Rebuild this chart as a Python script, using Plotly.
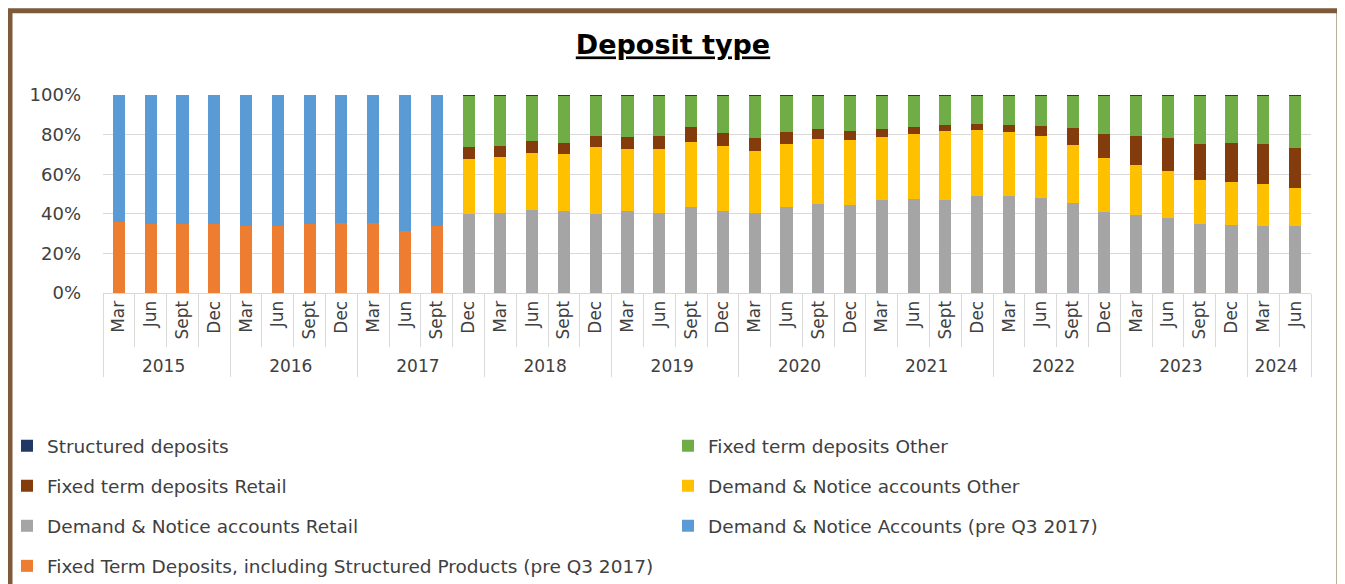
import plotly.graph_objects as go

# periods (two-level category axis)
year = ["2015", "2015", "2015", "2015", "2016", "2016", "2016", "2016",
        "2017", "2017", "2017", "2017", "2018", "2018", "2018", "2018",
        "2019", "2019", "2019", "2019", "2020", "2020", "2020", "2020",
        "2021", "2021", "2021", "2021", "2022", "2022", "2022", "2022",
        "2023", "2023", "2023", "2023", "2024", "2024"]
month = ["Mar", "Jun", "Sept", "Dec", "Mar", "Jun", "Sept", "Dec",
         "Mar", "Jun", "Sept", "Dec", "Mar", "Jun", "Sept", "Dec",
         "Mar", "Jun", "Sept", "Dec", "Mar", "Jun", "Sept", "Dec",
         "Mar", "Jun", "Sept", "Dec", "Mar", "Jun", "Sept", "Dec",
         "Mar", "Jun", "Sept", "Dec", "Mar", "Jun"]

N = None
# old breakdown (up to Sept 2017), % of total
fixed_pre = [36, 35, 35, 35, 34, 34, 35, 35.5, 35.5, 31.5, 34,
             N, N, N, N, N, N, N, N, N, N, N, N, N, N, N, N, N, N, N, N, N, N, N, N, N, N, N]
demand_pre = [64, 65, 65, 65, 66, 66, 65, 64.5, 64.5, 68.5, 66,
              N, N, N, N, N, N, N, N, N, N, N, N, N, N, N, N, N, N, N, N, N, N, N, N, N, N, N]

# new breakdown (from Dec 2017), % of total
pad = [N] * 11
demand_retail = pad + [40.1, 40.6, 42.1, 41.6, 39.7, 41.4, 40.6, 43.3, 41.4, 40.6, 43.3, 44.8, 44.5, 46.8,
                       47.3, 47.2, 49.2, 48.9, 47.8, 45.5, 40.9, 39.6, 38.1, 35.0, 34.2, 33.7, 33.7]
demand_other = pad + [27.5, 28.2, 28.7, 28.4, 33.8, 31.1, 32.2, 33.2, 32.6, 31.2, 32.2, 32.8, 32.7, 31.9,
                      32.8, 34.6, 33.1, 32.4, 31.4, 29.0, 27.4, 25.0, 23.4, 22.3, 22.1, 21.4, 19.4]
fixed_retail = pad + [6.1, 5.4, 5.9, 6.0, 5.7, 6.2, 6.4, 7.5, 6.6, 6.4, 5.8, 5.2, 4.7, 4.1,
                      3.7, 3.0, 3.0, 3.5, 5.1, 8.8, 11.8, 14.5, 16.6, 18.0, 19.5, 20.2, 19.9]
fixed_other = pad + [26.0, 25.5, 23.0, 23.7, 20.5, 21.0, 20.5, 15.7, 19.1, 21.5, 18.4, 16.9, 17.8, 16.9,
                     15.9, 14.9, 14.4, 14.9, 15.4, 16.4, 19.6, 20.6, 21.6, 24.4, 23.9, 24.4, 26.7]
structured = pad + [0.3] * 27

# the page puts the figure 8px in from the top-left corner
OFF = 8
W, H = 1345 - OFF, 584 - OFF
ML, MR, MT, MB = 103 - OFF, 34, 95 - OFF, 290.5
PW, PH = W - ML - MR, H - MT - MB


def px_x(p):  # p in screen pixels
    return (p - OFF - ML) / PW


def px_y(p):
    return (H - MB - (p - OFF)) / PH


font = "DejaVu Sans"
txt = "#404040"

# name, values, colour, legend column, legend rank
series = [
    ("Fixed Term Deposits, including Structured Products (pre Q3 2017)", fixed_pre, "#ED7D31", "legend", 7),
    ("Demand & Notice Accounts (pre Q3 2017)", demand_pre, "#5B9BD5", "legend2", 6),
    ("Demand & Notice accounts Retail", demand_retail, "#A5A5A5", "legend", 5),
    ("Demand & Notice accounts Other", demand_other, "#FFC000", "legend2", 4),
    ("Fixed term deposits Retail", fixed_retail, "#843C0C", "legend", 3),
    ("Fixed term deposits Other", fixed_other, "#70AD47", "legend2", 2),
    ("Structured deposits", structured, "#1F3864", "legend", 1),
]

fig = go.Figure()
for i, (name, vals, col, leg, rank) in enumerate(series):
    fig.add_trace(go.Bar(x=[year, month], y=vals, name=name, marker_color=col,
                         marker_line_width=0, legend=leg, legendgroup="g%d" % i,
                         legendrank=rank))

leg_common = dict(xanchor="left", yanchor="top",
                  traceorder="grouped", tracegroupgap=13,
                  font=dict(family=font, size=18.5, color=txt),
                  bgcolor="rgba(0,0,0,0)")

fig.update_layout(
    width=W, height=H,
    margin=dict(l=ML, r=MR, t=MT, b=MB, autoexpand=False),
    barmode="stack", barnorm="percent", bargap=0.62,
    paper_bgcolor="white", plot_bgcolor="white",
    title=dict(text="<b><u>Deposit type</u></b>", x=(673 - OFF) / W, xanchor="center",
               y=1 - (45 - OFF) / H, yanchor="middle",
               font=dict(family=font, size=27, color="black")),
    legend=dict(x=px_x(7), y=px_y(428), **leg_common),
    legend2=dict(x=px_x(668), y=px_y(428), **leg_common),
    xaxis=dict(type="multicategory", tickangle=-90, tickson="boundaries",
               ticks="outside", ticklen=53, tickcolor="#d9d9d9",
               showdividers=True, dividercolor="#d9d9d9", dividerwidth=1,
               showline=True, linecolor="#d9d9d9", showgrid=False,
               tickfont=dict(family=font, size=17, color=txt)),
    yaxis=dict(range=[0, 100], dtick=20, ticksuffix="%", showgrid=True,
               gridcolor="#d9d9d9", zeroline=False, showline=False,
               ticklabelstandoff=21,
               tickfont=dict(family=font, size=18, color=txt)),
    shapes=[dict(type="rect", xref="paper", yref="paper",
                 x0=px_x(10), x1=px_x(1339), y0=px_y(640), y1=px_y(10.5),
                 line=dict(color="#7d5a3a", width=5), layer="above")],
)

fig.write_html("out.html")
